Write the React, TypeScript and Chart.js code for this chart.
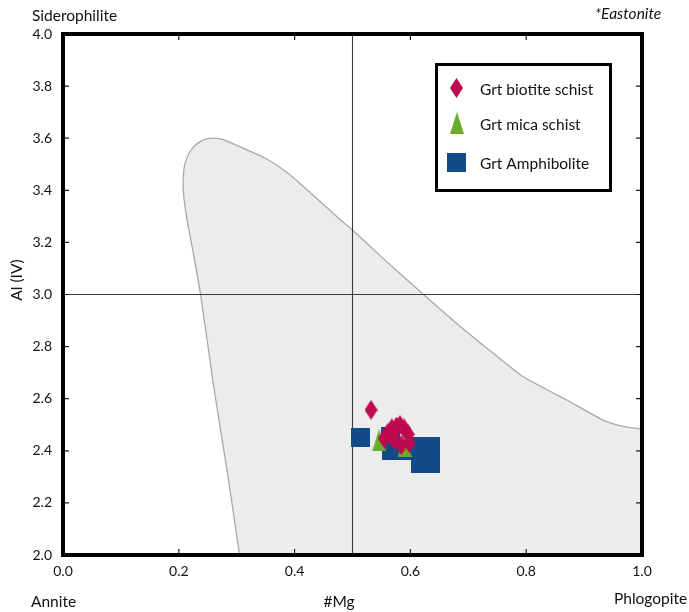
import React, { useEffect, useRef } from 'react';
import { Chart, registerables } from 'chart.js';

Chart.register(...registerables);

// ---------- data ----------
const seriesNames = ['Grt biotite schist', 'Grt mica schist', 'Grt Amphibolite'];

const biotiteMg = [0.532, 0.555, 0.561, 0.568, 0.576, 0.582, 0.589, 0.596, 0.598, 0.572, 0.584];
const biotiteAl = [2.557, 2.447, 2.468, 2.486, 2.493, 2.499, 2.486, 2.464, 2.430, 2.441, 2.422];

const micaMg = [0.546, 0.590];
const micaAl = [2.441, 2.420];

const amphMg = [0.513, 0.566, 0.567, 0.585, 0.617, 0.635, 0.617, 0.635];
const amphAl = [2.451, 2.453, 2.401, 2.403, 2.415, 2.415, 2.352, 2.352];

// outline of the grey field (from bottom-left, up and over to the right edge)
const fieldMg = [0.305, 0.283, 0.260, 0.238, 0.225, 0.214, 0.208, 0.208, 0.211, 0.219, 0.228, 0.237, 0.248, 0.260, 0.272, 0.283, 0.317, 0.352, 0.392, 0.435, 0.478, 0.500, 0.562, 0.625, 0.680, 0.740, 0.795, 0.870, 0.933, 0.965, 0.991, 1.000];
const fieldAl = [2.000, 2.330, 2.650, 2.995, 3.160, 3.290, 3.390, 3.460, 3.505, 3.548, 3.572, 3.587, 3.597, 3.600, 3.597, 3.589, 3.556, 3.520, 3.460, 3.375, 3.289, 3.248, 3.120, 2.995, 2.889, 2.780, 2.684, 2.595, 2.518, 2.495, 2.486, 2.484];
const fieldCloseMg = [1.0];
const fieldCloseAl = [2.0];

const refMg = 0.5;
const refAl = 3.0;

const xMin = 0, xMax = 1, xStep = 0.2;
const yMin = 2, yMax = 4, yStep = 0.2;
const xTickLabels = ['0.0', '0.2', '0.4', '0.6', '0.8', '1.0'];
const yTickLabels = ['2.0', '2.2', '2.4', '2.6', '2.8', '3.0', '3.2', '3.4', '3.6', '3.8', '4.0'];

const xTitle = '#Mg';
const yTitle = 'Al (IV)';
const cornerTopLeft = 'Siderophilite';
const cornerTopRight = '*Eastonite';
const cornerBottomLeft = 'Annite';
const cornerBottomRight = 'Phlogopite';

// ---------- styles ----------
const PINK = '#be0a4f';
const GREEN = '#69ac2b';
const BLUE = '#134a89';
const FONT = 'Lato, "Open Sans", sans-serif';

const zip = (xs: number[], ys: number[]) => xs.map((x, i) => ({ x, y: ys[i] }));

function makeShape(kind: string, w: number, h: number, color: string) {
  const c = document.createElement('canvas');
  c.width = w;
  c.height = h;
  const ctx = c.getContext('2d')!;
  ctx.fillStyle = color;
  ctx.beginPath();
  if (kind === 'diamond') {
    ctx.moveTo(w / 2, 0);
    ctx.lineTo(w, h / 2);
    ctx.lineTo(w / 2, h);
    ctx.lineTo(0, h / 2);
  } else if (kind === 'triangle') {
    ctx.moveTo(w / 2, 0);
    ctx.lineTo(w, h);
    ctx.lineTo(0, h);
  } else {
    ctx.rect(0, 0, w, h);
  }
  ctx.closePath();
  ctx.fill();
  return c;
}

export default function App() {
  const ref = useRef<HTMLCanvasElement | null>(null);

  useEffect(() => {
    if (!ref.current) return;
    const diamond = makeShape('diamond', 13, 20, PINK);
    const triangle = makeShape('triangle', 14, 22, GREEN);
    const square = makeShape('square', 19, 19, BLUE);
    const icons = [diamond, triangle, square];

    const decor = {
      id: 'decor',
      afterDatasetsDraw(chart: any) {
        const { ctx, chartArea: a, scales } = chart;
        ctx.save();
        // inward tick marks on all four sides
        ctx.strokeStyle = '#1a1a1a';
        ctx.lineWidth = 1.2;
        const tl = 6;
        scales.x.ticks.forEach((t: any) => {
          const px = scales.x.getPixelForValue(t.value);
          ctx.beginPath();
          ctx.moveTo(px, a.bottom);
          ctx.lineTo(px, a.bottom - tl);
          ctx.moveTo(px, a.top);
          ctx.lineTo(px, a.top + tl);
          ctx.stroke();
        });
        scales.y.ticks.forEach((t: any) => {
          const py = scales.y.getPixelForValue(t.value);
          ctx.beginPath();
          ctx.moveTo(a.left, py);
          ctx.lineTo(a.left + tl, py);
          ctx.moveTo(a.right, py);
          ctx.lineTo(a.right - tl, py);
          ctx.stroke();
        });
        // heavy frame
        ctx.strokeStyle = '#000';
        ctx.lineWidth = 4;
        ctx.strokeRect(a.left, a.top, a.right - a.left, a.bottom - a.top);
        ctx.restore();
      },
      afterDraw(chart: any) {
        const { ctx, chartArea: a } = chart;
        ctx.save();
        ctx.fillStyle = '#111';
        ctx.textBaseline = 'alphabetic';
        ctx.font = `15.5px ${FONT}`;
        ctx.textAlign = 'left';
        ctx.fillText(cornerTopLeft, 32, 21);
        ctx.fillText(cornerBottomLeft, 31, 607);
        ctx.fillText(cornerBottomRight, 614, 604);
        ctx.textAlign = 'center';
        ctx.fillText(xTitle, 339, 607);
        ctx.font = `italic 15.5px ${FONT}`;
        ctx.textAlign = 'left';
        ctx.fillText(cornerTopRight, 595, 19);
        // y title
        ctx.font = `15.5px ${FONT}`;
        ctx.save();
        ctx.translate(17, 280);
        ctx.rotate(-Math.PI / 2);
        ctx.textAlign = 'center';
        ctx.textBaseline = 'middle';
        ctx.fillText(yTitle, 0, 0);
        ctx.restore();

        // legend box
        const lx = a.left + 373.5;
        const ly = a.top + 30.5;
        ctx.fillStyle = '#fff';
        ctx.fillRect(lx, ly, 174, 126);
        ctx.strokeStyle = '#000';
        ctx.lineWidth = 3;
        ctx.strokeRect(lx, ly, 174, 126);
        const iconY = [23.5, 58, 97.5];
        const textY = [30, 65, 104];
        ctx.font = `15.5px ${FONT}`;
        ctx.fillStyle = '#111';
        ctx.textAlign = 'left';
        ctx.textBaseline = 'alphabetic';
        seriesNames.forEach((name, i) => {
          const ic = icons[i];
          ctx.drawImage(ic, Math.round(lx + 20 - ic.width / 2), Math.round(ly + iconY[i] - ic.height / 2));
          ctx.fillText(name, lx + 43.5, ly + textY[i]);
        });
        ctx.restore();
      },
    };

    const chart = new Chart(ref.current, {
      type: 'scatter',
      data: {
        datasets: [
          {
            label: seriesNames[0],
            data: zip(biotiteMg, biotiteAl),
            pointStyle: diamond as any,
            pointRadius: 10,
            order: 0,
          },
          {
            label: seriesNames[1],
            data: zip(micaMg, micaAl),
            pointStyle: triangle as any,
            pointRadius: 10,
            order: 1,
          },
          {
            label: seriesNames[2],
            data: zip(amphMg, amphAl),
            pointStyle: square as any,
            pointRadius: 10,
            order: 2,
          },
          {
            label: 'ref-x',
            data: [{ x: refMg, y: yMin }, { x: refMg, y: yMax }],
            showLine: true,
            borderColor: '#3c3c3c',
            borderWidth: 1.1,
            pointRadius: 0,
            order: 3,
          },
          {
            label: 'ref-y',
            data: [{ x: xMin, y: refAl }, { x: xMax, y: refAl }],
            showLine: true,
            borderColor: '#3c3c3c',
            borderWidth: 1.1,
            pointRadius: 0,
            order: 3,
          },
          {
            label: 'field-outline',
            data: zip(fieldMg, fieldAl),
            showLine: true,
            borderColor: '#a9a9a9',
            borderWidth: 1.3,
            pointRadius: 0,
            fill: false,
            tension: 0.2,
            order: 4,
          },
          {
            label: 'field',
            data: zip(fieldMg.concat(fieldCloseMg), fieldAl.concat(fieldCloseAl)),
            showLine: true,
            borderWidth: 0,
            borderColor: 'rgba(0,0,0,0)',
            backgroundColor: '#ebecec',
            pointRadius: 0,
            fill: 'shape',
            tension: 0,
            order: 5,
          },
        ],
      },
      options: {
        animation: false,
        responsive: true,
        maintainAspectRatio: false,
        events: [],
        layout: { padding: { top: 34, right: 47, left: 0, bottom: 0 } },
        plugins: {
          legend: { display: false },
          tooltip: { enabled: false },
        },
        scales: {
          x: {
            type: 'linear',
            min: xMin,
            max: xMax,
            grid: { display: false, drawTicks: false },
            border: { display: false },
            ticks: {
              stepSize: xStep,
              padding: 8,
              color: '#111',
              font: { family: FONT, size: 14 },
              maxRotation: 0,
              callback: (_v: any, i: number) => xTickLabels[i],
            },
            afterFit: (s: any) => {
              s.height = 57;
            },
          },
          y: {
            type: 'linear',
            min: yMin,
            max: yMax,
            grid: { display: false, drawTicks: false },
            border: { display: false },
            ticks: {
              stepSize: yStep,
              padding: 11,
              color: '#111',
              font: { family: FONT, size: 14 },
              callback: (_v: any, i: number) => yTickLabels[i],
            },
            afterFit: (s: any) => {
              s.width = 63;
            },
          },
        },
      },
      plugins: [decor],
    });
    return () => chart.destroy();
  }, []);

  return (
    <div style={{ position: 'fixed', left: 0, top: 0, width: 689, height: 612, background: '#fff' }}>
      <canvas ref={ref} />
    </div>
  );
}
